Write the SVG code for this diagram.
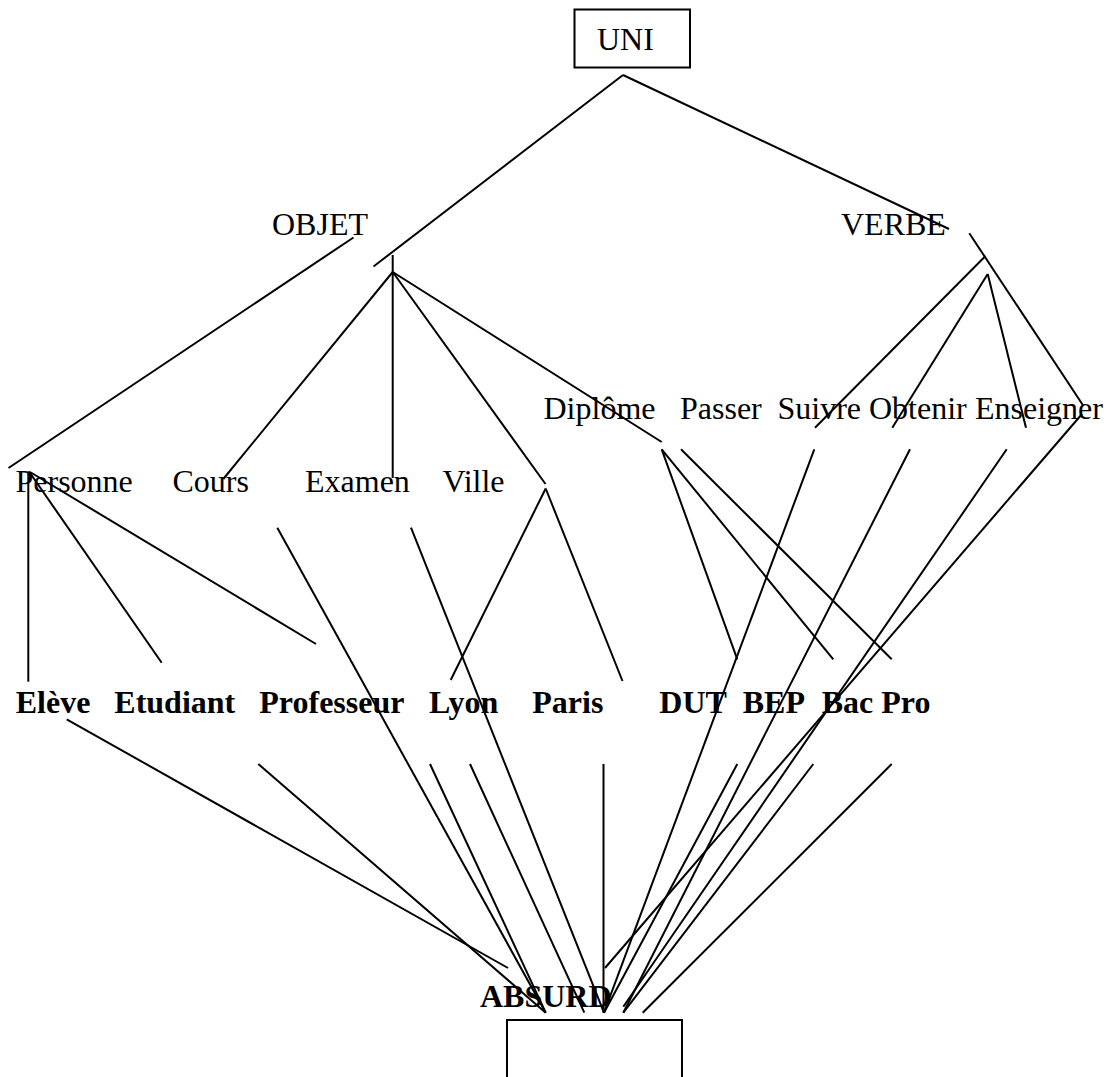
<svg xmlns="http://www.w3.org/2000/svg" width="1106" height="1077" viewBox="0 0 1106 1077">
  <style>
    .lbl { font-family: "Liberation Serif", "Times New Roman", serif; font-size: 32px; fill: #000; }
    .b { font-weight: bold; }
    .box { fill: none; stroke: #000; stroke-width: 2; }
    #connectors line { stroke: #000; stroke-width: 2; stroke-linecap: butt; }
  </style>
  <rect width="1106" height="1077" fill="#fff"/>

  <!-- tree edges -->
  <g id="connectors">
    <!-- UNI -->
    <line x1="623" y1="75" x2="373.5" y2="266.5"/>
    <line x1="623" y1="75" x2="949" y2="229"/>
    <!-- OBJET -->
    <line x1="353.5" y1="237.5" x2="8.5" y2="468"/>
    <line x1="392.7" y1="255" x2="392.7" y2="478"/>
    <line x1="392.7" y1="272" x2="223.3" y2="479"/>
    <line x1="392.7" y1="272" x2="545.5" y2="484"/>
    <line x1="392.7" y1="272" x2="661.7" y2="442"/>
    <!-- VERBE -->
    <line x1="969.3" y1="233.3" x2="1083.5" y2="406"/>
    <line x1="985.5" y1="256" x2="815" y2="427.7"/>
    <line x1="987.7" y1="274" x2="892.3" y2="427.7"/>
    <line x1="987.7" y1="274" x2="1026" y2="427.7"/>
    <!-- Personne -->
    <line x1="28.3" y1="471.5" x2="28.3" y2="681.7"/>
    <line x1="29" y1="471.5" x2="161.7" y2="662.7"/>
    <line x1="30" y1="472" x2="316" y2="644"/>
    <!-- Ville -->
    <line x1="545.7" y1="488.5" x2="450.7" y2="680"/>
    <line x1="545.7" y1="488.5" x2="622.5" y2="681"/>
    <!-- Diplôme / Passer -->
    <line x1="661.7" y1="449.3" x2="737.3" y2="659.3"/>
    <line x1="661.7" y1="449.3" x2="833.3" y2="659.3"/>
    <line x1="681" y1="449.3" x2="891.7" y2="659.3"/>
    <!-- into ABSURD -->
    <line x1="66.7" y1="719.3" x2="508" y2="968"/>
    <line x1="258.3" y1="764" x2="545.7" y2="1012.7"/>
    <line x1="277.3" y1="527.7" x2="545.7" y2="1012.7"/>
    <line x1="430" y1="764" x2="545.7" y2="1012.7"/>
    <line x1="470" y1="764" x2="584.3" y2="1012.7"/>
    <line x1="411" y1="527.7" x2="604" y2="1012.7"/>
    <line x1="603.5" y1="764" x2="603.5" y2="1012.7"/>
    <line x1="814.3" y1="449.3" x2="604" y2="1012.7"/>
    <line x1="910" y1="449.3" x2="623.3" y2="1012.7"/>
    <line x1="1006.7" y1="449.3" x2="623.3" y2="1006.7"/>
    <line x1="1082" y1="414" x2="605" y2="968"/>
    <line x1="737.3" y1="764" x2="604" y2="1012.7"/>
    <line x1="813.3" y1="764" x2="623.3" y2="1012.7"/>
    <line x1="891.7" y1="764" x2="642.7" y2="1012.7"/>
  </g>

  <!-- top node -->
  <g id="uni">
    <rect class="box" x="574.5" y="9.5" width="115.5" height="58"/>
    <text class="lbl" x="597" y="50">UNI</text>
  </g>

  <!-- first level -->
  <g id="objet"><text class="lbl" x="272" y="235">OBJET</text></g>
  <g id="verbe"><text class="lbl" x="841" y="235">VERBE</text></g>

  <!-- second level -->
  <g id="personne"><text class="lbl" x="15.5" y="492">Personne</text></g>
  <g id="cours"><text class="lbl" x="172.5" y="492">Cours</text></g>
  <g id="examen"><text class="lbl" x="305" y="492">Examen</text></g>
  <g id="ville"><text class="lbl" x="442.5" y="492">Ville</text></g>
  <g id="diplome"><text class="lbl" x="543.5" y="418.5">Diplôme</text></g>
  <g id="passer"><text class="lbl" x="680" y="418.5">Passer</text></g>
  <g id="suivre"><text class="lbl" x="777.5" y="418.5">Suivre</text></g>
  <g id="obtenir"><text class="lbl" x="869" y="418.5">Obtenir</text></g>
  <g id="enseigner"><text class="lbl" x="975" y="418.5">Enseigner</text></g>

  <!-- instances -->
  <g id="eleve"><text class="lbl b" x="15.7" y="712.7">Elève</text></g>
  <g id="etudiant"><text class="lbl b" x="114.3" y="712.7">Etudiant</text></g>
  <g id="professeur"><text class="lbl b" x="259.3" y="712.7">Professeur</text></g>
  <g id="lyon"><text class="lbl b" x="429" y="712.7">Lyon</text></g>
  <g id="paris"><text class="lbl b" x="532.3" y="712.7">Paris</text></g>
  <g id="dut"><text class="lbl b" x="659.3" y="712.7">DUT</text></g>
  <g id="bep"><text class="lbl b" x="742.7" y="712.7">BEP</text></g>
  <g id="bacpro"><text class="lbl b" x="821.7" y="712.7">Bac Pro</text></g>

  <!-- bottom node -->
  <g id="absurd">
    <text class="lbl b" x="480" y="1006.7">ABSURD</text>
    <rect class="box" x="507" y="1020" width="175" height="80"/>
  </g>
</svg>
